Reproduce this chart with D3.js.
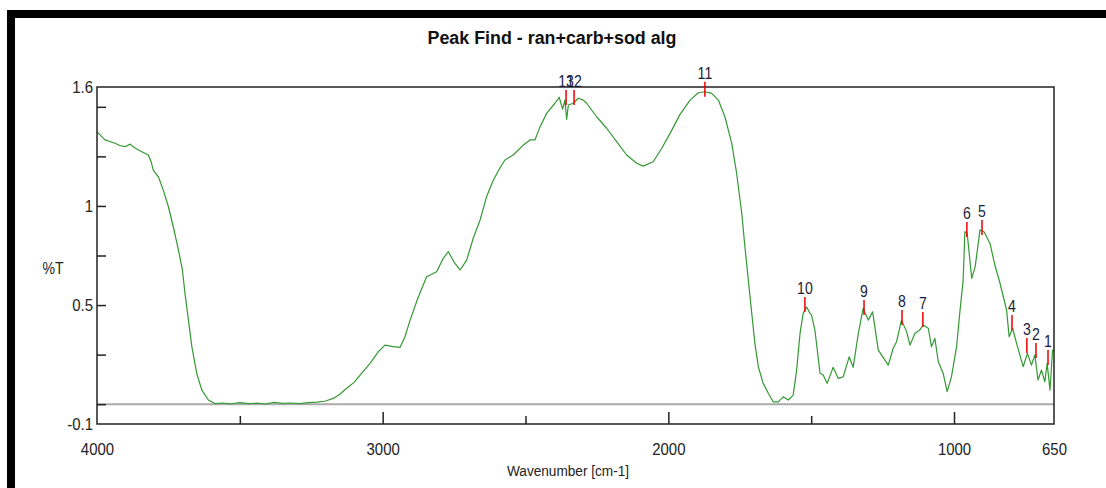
<!DOCTYPE html>
<html>
<head>
<meta charset="utf-8">
<script src="https://cdn.jsdelivr.net/npm/d3@7"></script>
<style>
	body { margin: 0; background: #fff; }
	text { font-family: "Liberation Sans", Arial, sans-serif; }
</style>
</head>
<body>
<script>
// spectrum: wavenumber [cm-1] and %T
var wavenumbers = [4000, 3972, 3955, 3937, 3920, 3902, 3884, 3870, 3855, 3838, 3820, 3810, 3803, 3785, 3768, 3750, 3733, 3715, 3701, 3692, 3680, 3668, 3651, 3633, 3610, 3587, 3560, 3530, 3500, 3470, 3440, 3410, 3380, 3350, 3320, 3290, 3260, 3230, 3200, 3173, 3150, 3126, 3100, 3079, 3044, 3015, 2992, 2963, 2939, 2922, 2904, 2875, 2846, 2811, 2788, 2770, 2747, 2729, 2706, 2683, 2659, 2636, 2613, 2590, 2572, 2543, 2508, 2484, 2467, 2449, 2426, 2397, 2382, 2370, 2362, 2356, 2350, 2333, 2315, 2298, 2286, 2251, 2216, 2181, 2146, 2111, 2088, 2053, 2023, 1994, 1959, 1924, 1895, 1872, 1848, 1825, 1802, 1778, 1761, 1743, 1732, 1720, 1708, 1697, 1685, 1668, 1650, 1633, 1615, 1598, 1580, 1563, 1551, 1539, 1528, 1516, 1504, 1499, 1487, 1469, 1458, 1444, 1423, 1405, 1388, 1367, 1353, 1335, 1318, 1300, 1285, 1265, 1230, 1213, 1201, 1184, 1166, 1154, 1137, 1120, 1108, 1090, 1079, 1067, 1055, 1038, 1024, 1009, 991, 980, 968, 962, 954, 938, 926, 909, 895, 874, 857, 839, 816, 807, 795, 781, 758, 743, 729, 717, 706, 694, 682, 674, 664, 655, 650];

var transmittance = [1.374, 1.333, 1.325, 1.316, 1.305, 1.299, 1.312, 1.295, 1.282, 1.27, 1.257, 1.22, 1.181, 1.147, 1.08, 0.996, 0.895, 0.778, 0.677, 0.559, 0.425, 0.29, 0.156, 0.071, 0.021, 0.003, 0.006, 0.002, 0.008, 0.003, 0.005, 0.001, 0.009, 0.004, 0.006, 0.003, 0.008, 0.01, 0.016, 0.029, 0.05, 0.08, 0.11, 0.147, 0.206, 0.265, 0.298, 0.29, 0.287, 0.34, 0.424, 0.542, 0.643, 0.668, 0.736, 0.769, 0.71, 0.677, 0.727, 0.837, 0.929, 1.048, 1.13, 1.19, 1.232, 1.257, 1.307, 1.333, 1.333, 1.4, 1.467, 1.518, 1.548, 1.488, 1.534, 1.437, 1.509, 1.518, 1.543, 1.534, 1.518, 1.45, 1.392, 1.324, 1.257, 1.215, 1.201, 1.223, 1.291, 1.366, 1.462, 1.534, 1.571, 1.576, 1.568, 1.534, 1.45, 1.316, 1.165, 0.963, 0.794, 0.626, 0.458, 0.307, 0.189, 0.105, 0.055, 0.012, 0.012, 0.037, 0.021, 0.046, 0.172, 0.357, 0.458, 0.49, 0.458, 0.45, 0.374, 0.156, 0.147, 0.105, 0.186, 0.13, 0.138, 0.239, 0.186, 0.357, 0.483, 0.424, 0.466, 0.273, 0.197, 0.282, 0.315, 0.424, 0.366, 0.298, 0.357, 0.374, 0.399, 0.383, 0.29, 0.332, 0.214, 0.156, 0.063, 0.138, 0.29, 0.458, 0.626, 0.87, 0.862, 0.635, 0.693, 0.879, 0.87, 0.811, 0.702, 0.61, 0.475, 0.34, 0.383, 0.307, 0.189, 0.256, 0.197, 0.248, 0.122, 0.172, 0.113, 0.206, 0.071, 0.273, 0.27];

// peak find results
var peakLabels = ['1', '2', '3', '4', '5', '6', '7', '8', '9', '10', '11', '12', '13'];
var peakWavenumbers = [671, 713, 745, 797, 902, 955, 1109, 1182, 1315, 1522, 1872, 2330, 2358];
var peakValues = [0.223, 0.258, 0.283, 0.399, 0.879, 0.868, 0.414, 0.424, 0.475, 0.49, 1.576, 1.534, 1.534];

// axis ticks
var xLabelTicks = [4000, 3000, 2000, 1000, 650];
var xMajorTicks = [3000, 2000, 1000];
var xMinorTicks = [3500, 2500, 1500];
var yLabelTicks = [-0.1, 0.5, 1, 1.6];
var yTicks = [0, 0.25, 0.5, 0.75, 1, 1.25, 1.5];

var width = 1106,
	height = 488;

var plot = { left: 97, right: 1054, top: 87, bottom: 424 };

// the original text is a bit narrow and tall
var squeeze = 'scale(0.88,1)';

var svg = d3.select('body')
	.append('svg')
	.attr('width', width)
	.attr('height', height);

// black window frame (top and left)
svg.append('rect')
	.attr('x', 7).attr('y', 10)
	.attr('width', width - 7).attr('height', 8)
	.attr('fill', '#000');
svg.append('rect')
	.attr('x', 7).attr('y', 10)
	.attr('width', 8).attr('height', height - 10)
	.attr('fill', '#000');

var x = d3.scaleLinear()
	.domain([4000, 650])
	.range([plot.left, plot.right]);

var y = d3.scaleLinear()
	.domain([-0.1, 1.6])
	.range([plot.bottom, plot.top]);

// title
svg.append('text')
	.attr('transform', 'translate(552,44) scale(0.94,1)')
	.attr('text-anchor', 'middle')
	.attr('font-size', 19)
	.attr('font-weight', 'bold')
	.attr('fill', '#111')
	.text('Peak Find - ran+carb+sod alg');

// zero line
svg.append('line')
	.attr('x1', plot.left).attr('x2', plot.right)
	.attr('y1', y(0)).attr('y2', y(0))
	.attr('stroke', '#aaa')
	.attr('stroke-width', 2);

// inward ticks
svg.append('g')
	.attr('transform', 'translate(0,' + plot.bottom + ')')
	.call(d3.axisBottom(x).tickValues(xMajorTicks).tickSizeInner(-12).tickSizeOuter(0).tickFormat(''))
	.call(function(g) { g.select('.domain').remove(); })
	.selectAll('line').attr('stroke', '#222').attr('stroke-width', 1.5);

svg.append('g')
	.attr('transform', 'translate(0,' + plot.bottom + ')')
	.call(d3.axisBottom(x).tickValues(xMinorTicks).tickSizeInner(-8).tickSizeOuter(0).tickFormat(''))
	.call(function(g) { g.select('.domain').remove(); })
	.selectAll('line').attr('stroke', '#222').attr('stroke-width', 1.5);

svg.append('g')
	.attr('transform', 'translate(' + plot.left + ',0)')
	.call(d3.axisLeft(y).tickValues(yTicks).tickSizeInner(-9).tickSizeOuter(0).tickFormat(''))
	.call(function(g) { g.select('.domain').remove(); })
	.selectAll('line').attr('stroke', '#222').attr('stroke-width', 1.5);

// tick labels
var xLab = svg.append('g')
	.attr('transform', 'translate(0,' + plot.bottom + ')')
	.call(d3.axisBottom(x).tickValues(xLabelTicks).tickSize(0).tickPadding(19).tickFormat(function(d) { return String(d); }));
xLab.select('.domain').remove();
xLab.selectAll('text')
	.attr('font-size', 17)
	.attr('font-family', '"Liberation Sans", Arial, sans-serif')
	.attr('fill', '#222')
	.attr('transform', squeeze);

var yLab = svg.append('g')
	.attr('transform', 'translate(' + (plot.left - 4) + ',0)')
	.call(d3.axisLeft(y).tickValues(yLabelTicks).tickSize(0).tickPadding(0).tickFormat(function(d) { return String(d); }));
yLab.select('.domain').remove();
yLab.selectAll('text')
	.attr('font-size', 17)
	.attr('font-family', '"Liberation Sans", Arial, sans-serif')
	.attr('fill', '#222')
	.attr('transform', squeeze);

// axis titles
svg.append('text')
	.attr('transform', 'translate(53,274) ' + squeeze)
	.attr('text-anchor', 'middle')
	.attr('font-size', 16)
	.attr('fill', '#222')
	.text('%T');

svg.append('text')
	.attr('transform', 'translate(568,476) ' + squeeze)
	.attr('text-anchor', 'middle')
	.attr('font-size', 15.5)
	.attr('fill', '#222')
	.text('Wavenumber [cm-1]');

// spectrum
var points = wavenumbers.map(function(w, i) { return [w, transmittance[i]]; });

var line = d3.line()
	.x(function(d) { return x(d[0]); })
	.y(function(d) { return y(d[1]); });

svg.append('path')
	.datum(points)
	.attr('fill', 'none')
	.attr('stroke', '#339933')
	.attr('stroke-width', 1.2)
	.attr('stroke-linejoin', 'round')
	.attr('d', line);

// plot box
svg.append('rect')
	.attr('x', plot.left).attr('y', plot.top)
	.attr('width', plot.right - plot.left)
	.attr('height', plot.bottom - plot.top)
	.attr('fill', 'none')
	.attr('stroke', '#222')
	.attr('stroke-width', 1.5);

// peak markers + labels
var peaks = peakLabels.map(function(l, i) {
	return { label: l, wn: peakWavenumbers[i], t: peakValues[i] };
});

var pk = svg.append('g').attr('class', 'peaks');

pk.selectAll('line')
	.data(peaks)
	.enter().append('line')
	.attr('x1', function(d) { return x(d.wn); })
	.attr('x2', function(d) { return x(d.wn); })
	.attr('y1', function(d) { return y(d.t) - 10; })
	.attr('y2', function(d) { return y(d.t) + 5; })
	.attr('stroke', '#e00')
	.attr('stroke-width', 1.5);

pk.selectAll('text')
	.data(peaks)
	.enter().append('text')
	.attr('transform', function(d) {
		return 'translate(' + x(d.wn) + ',' + (y(d.t) - 13) + ') ' + squeeze;
	})
	.attr('text-anchor', 'middle')
	.attr('font-size', 16)
	.attr('fill', '#1c1c3c')
	.text(function(d) { return d.label; });
</script>
</body>
</html>
